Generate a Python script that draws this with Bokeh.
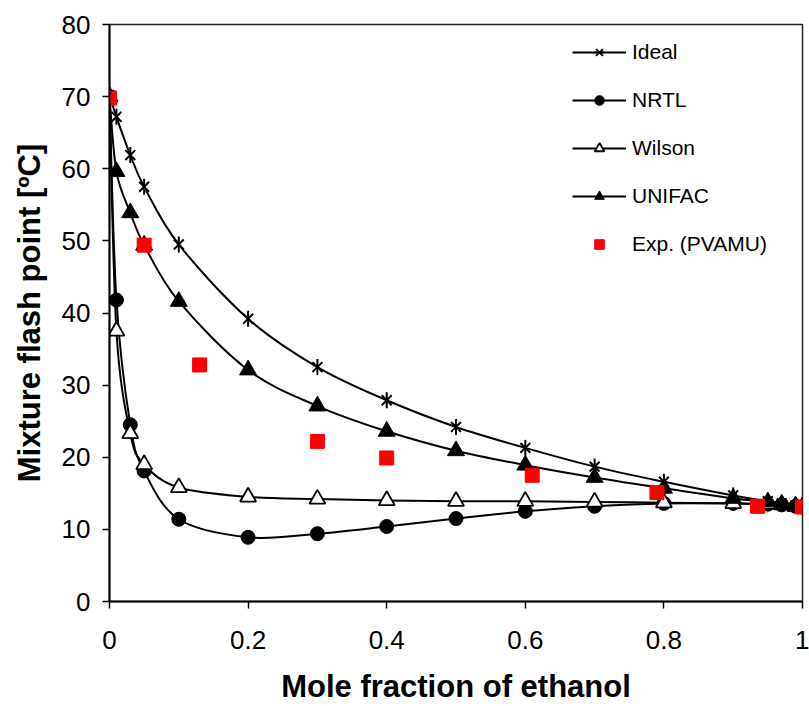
import numpy as np
from bokeh.plotting import figure
from bokeh.models import Legend, LegendItem, Range1d, FixedTicker
from bokeh.embed import file_html
from bokeh.resources import INLINE

# ---- data ----
x_model = [0.0, 0.01, 0.03, 0.05, 0.1, 0.2, 0.3, 0.4, 0.5, 0.6, 0.7, 0.8, 0.9, 0.95, 0.97, 0.99, 1.0]
ideal = [70.2, 67.2, 61.9, 57.5, 49.5, 39.2, 32.5, 27.9, 24.2, 21.3, 18.7, 16.6, 14.7, 13.9, 13.6, 13.3, 13.1]
nrtl = [70.0, 41.8, 24.5, 18.1, 11.4, 8.9, 9.4, 10.4, 11.5, 12.5, 13.2, 13.6, 13.6, 13.5, 13.4, 13.2, 13.1]
wilson = [70.0, 37.5, 23.3, 19.0, 15.8, 14.5, 14.2, 14.0, 13.9, 13.9, 13.8, 13.7, 13.6, 13.5, 13.4, 13.2, 13.1]
unifac = [70.0, 59.6, 53.9, 49.4, 41.6, 32.1, 27.1, 23.6, 20.9, 18.9, 17.2, 15.7, 14.3, 13.8, 13.5, 13.2, 13.1]
x_exp = [0.0, 0.05, 0.13, 0.30, 0.40, 0.61, 0.79, 0.935, 1.0]
y_exp = [69.8, 49.4, 32.8, 22.2, 19.9, 17.5, 15.1, 13.2, 13.1]

x_ticks = [0, 0.2, 0.4, 0.6, 0.8, 1.0]
x_tick_labels = ["0", "0.2", "0.4", "0.6", "0.8", "1"]
y_ticks = [0, 10, 20, 30, 40, 50, 60, 70, 80]

FONT = "Liberation Sans"


def smooth_segments(xs, ys):
    """Excel-style smoothed line: cubic Bezier segments through the points."""
    xs = np.asarray(xs, float)
    ys = np.asarray(ys, float)
    n = len(xs)
    xp = np.concatenate([[xs[0]], xs, [xs[-1]]])
    yp = np.concatenate([[ys[0]], ys, [ys[-1]]])
    return dict(
        x0=xs[:-1], y0=ys[:-1], x1=xs[1:], y1=ys[1:],
        cx0=xs[:-1] + (xp[2:n + 1] - xp[0:n - 1]) / 6.0,
        cy0=ys[:-1] + (yp[2:n + 1] - yp[0:n - 1]) / 6.0,
        cx1=xs[1:] - (xp[3:n + 2] - xp[1:n]) / 6.0,
        cy1=ys[1:] - (yp[3:n + 2] - yp[1:n]) / 6.0,
    )


p = figure(width=809, height=706, output_backend="svg", toolbar_location=None,
           x_range=Range1d(0, 1), y_range=Range1d(0, 80),
           min_border_left=109, min_border_right=7, min_border_top=24, min_border_bottom=105)
p.background_fill_color = "white"
p.border_fill_color = "white"
p.outline_line_color = "#222222"
p.outline_line_width = 1.5
p.xgrid.visible = False
p.ygrid.visible = False

items = []


def add_series(name, ys, marker_specs):
    seg = smooth_segments(x_model, ys)
    line_r = p.bezier(line_color="black", line_width=2, **seg)
    rs = [line_r]
    for mk in marker_specs:
        rs.append(p.scatter(x=x_model, y=ys, **mk))
    items.append(LegendItem(label=name, renderers=rs))


add_series("Ideal", ideal, [
    dict(marker="x", size=14, line_color="black", line_width=2),
    dict(marker="dash", angle=np.pi / 2, size=16, line_color="black", line_width=2),
])
add_series("NRTL", nrtl, [dict(marker="circle", size=14, fill_color="black", line_color="black")])
add_series("Wilson", wilson, [dict(marker="triangle", size=16, fill_color="white",
                                   line_color="black", line_width=1.8)])
add_series("UNIFAC", unifac, [dict(marker="triangle", size=17, fill_color="black", line_color="black")])

exp_r = p.scatter(x=x_exp, y=y_exp, marker="square", size=14, fill_color="#ff0000", line_color="#ff0000")
items.append(LegendItem(label="Exp. (PVAMU)", renderers=[exp_r]))

legend = Legend(items=items, location=(463, 345), orientation="vertical",
                background_fill_alpha=0, border_line_alpha=0,
                padding=0, margin=0, spacing=24,
                glyph_width=54, glyph_height=24, label_height=24, label_standoff=6,
                label_text_font=FONT, label_text_font_size="21px", label_text_color="black")
p.add_layout(legend, "center")

# axes
for ax in (p.xaxis, p.yaxis):
    ax.axis_line_color = "black"
    ax.axis_line_width = 2
    ax.major_tick_line_color = "black"
    ax.major_tick_line_width = 1.5
    ax.major_tick_in = 0
    ax.major_tick_out = 7
    ax.minor_tick_line_color = None
    ax.major_label_text_font = FONT
    ax.major_label_text_font_size = "26px"
    ax.major_label_text_color = "black"
    ax.axis_label_text_font = FONT
    ax.axis_label_text_font_size = "31px"
    ax.axis_label_text_font_style = "bold"
    ax.axis_label_text_color = "black"

p.xaxis.ticker = FixedTicker(ticks=x_ticks)
p.xaxis.major_label_overrides = {t: l for t, l in zip(x_ticks, x_tick_labels)}
p.yaxis.ticker = FixedTicker(ticks=y_ticks)
p.xaxis.axis_label = "Mole fraction of ethanol"
p.yaxis.axis_label = "Mixture flash point [ºC]"
p.xaxis.major_label_standoff = 22
p.yaxis.major_label_standoff = 12
p.xaxis.axis_label_standoff = 17
p.yaxis.axis_label_standoff = 12

open("out.html", "w").write(file_html(p, INLINE))
